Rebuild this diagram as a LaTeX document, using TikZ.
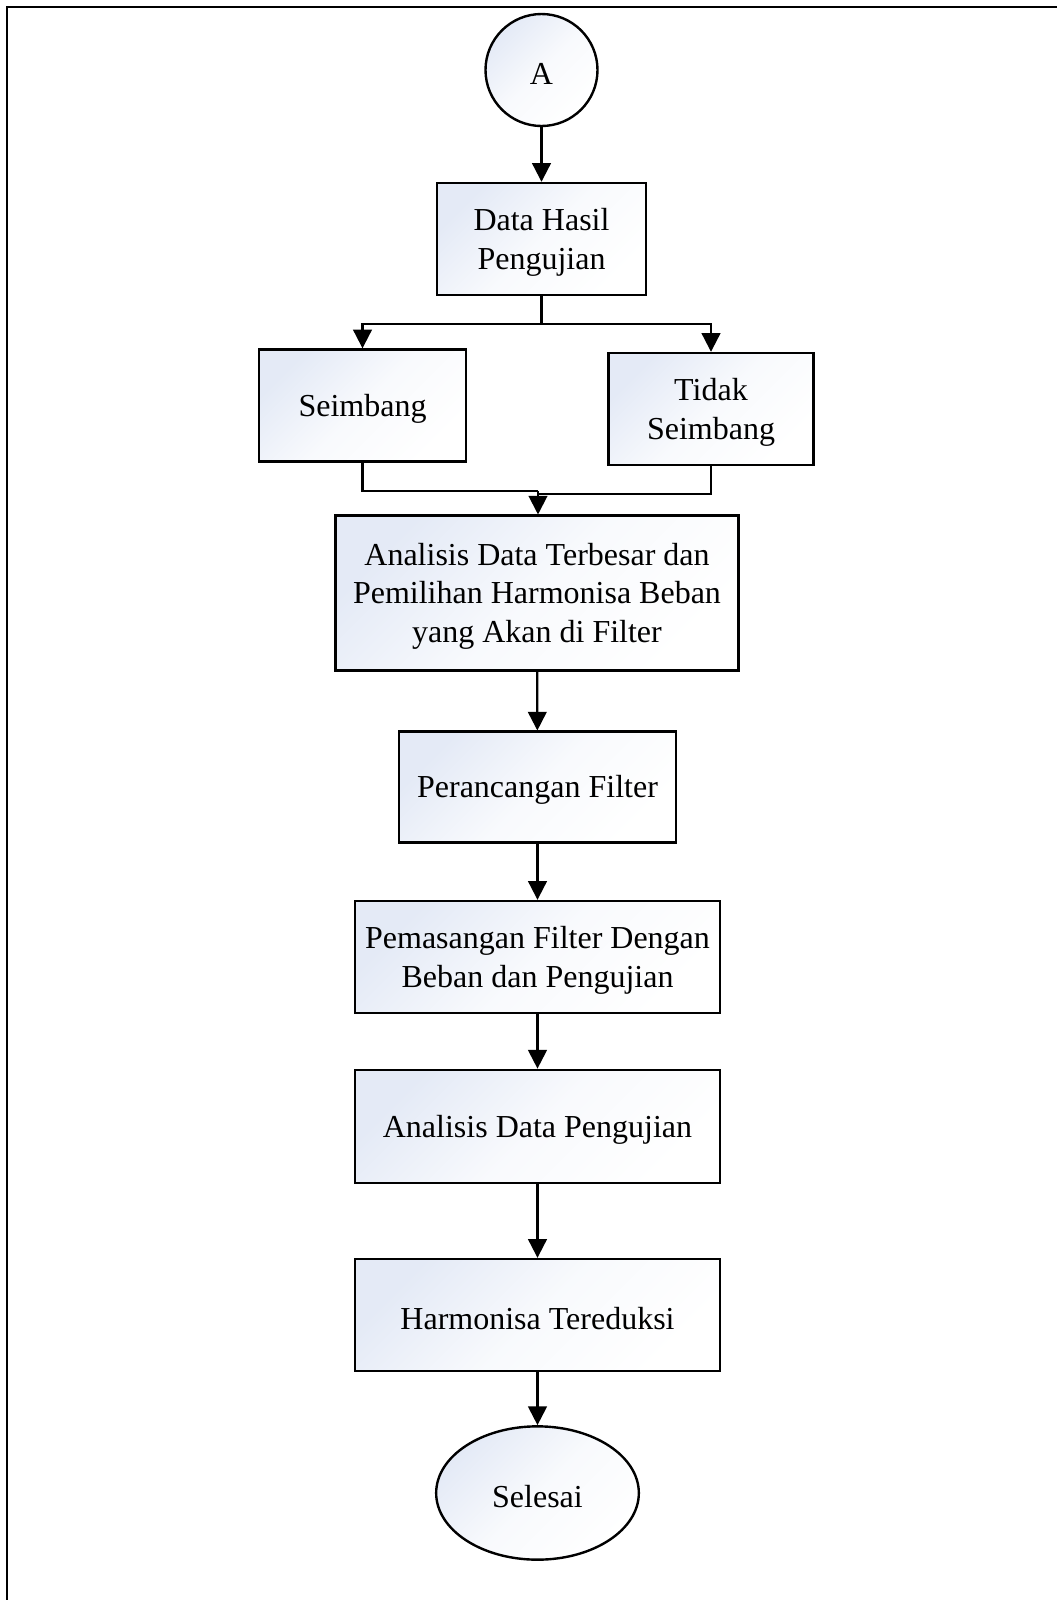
\documentclass[tikz,border=0pt]{standalone}
\usepackage{fontspec}
\setmainfont{Liberation Serif}
\usetikzlibrary{arrows.meta,shapes.geometric}
\definecolor{tint}{RGB}{228,234,246}
\colorlet{tintmid}{white!75!tint}
\newcommand\tstrut{\rule{0pt}{21.5pt}}
\begin{document}
\begin{tikzpicture}[x=0.75pt,y=-0.75pt,
  txt/.style={align=center,font=\fontsize{24}{29}\selectfont},
  shadefill/.style={top color=tint,bottom color=white,middle color=tintmid,shading angle=45},
  box/.style={rectangle,draw=black,line width=1.8pt,inner sep=0pt,txt,shadefill},
  term/.style={draw=black,line width=1.8pt,inner sep=0pt,txt,shadefill},
  arr/.style={line width=1.6pt,-{Triangle[width=14pt,length=14pt]}},
  ln/.style={line width=1.6pt}]
\useasboundingbox (0,0) rectangle (1057,1600);
\draw[line width=2pt] (7,1600) -- (7,7) -- (1057,7);

\node[term,circle,minimum size=84pt] (A) at (541.5,70) {\tstrut A};
\node[box,minimum width=157pt,minimum height=84pt] (data) at (541.5,239) {\tstrut Data Hasil\\Pengujian};
\node[box,minimum width=155pt,minimum height=84pt] (seim) at (362.5,405.5) {\tstrut Seimbang};
\node[box,minimum width=154pt,minimum height=84pt] (tidak) at (711,409) {\tstrut Tidak\\Seimbang};
\node[box,minimum width=302pt,minimum height=116pt] (an1) at (537,593) {\tstrut Analisis Data Terbesar dan\\Pemilihan Harmonisa Beban\\yang Akan di Filter};
\node[box,minimum width=208pt,minimum height=83pt] (per) at (537.5,787) {\tstrut Perancangan Filter};
\node[box,minimum width=274pt,minimum height=84pt] (pem) at (537.5,957) {\tstrut Pemasangan Filter Dengan\\Beban dan Pengujian};
\node[box,minimum width=274pt,minimum height=85pt] (an2) at (537.5,1126.5) {\tstrut Analisis Data Pengujian};
\node[box,minimum width=274pt,minimum height=84pt] (har) at (537.5,1315) {\tstrut Harmonisa Tereduksi};
\node[term,ellipse,minimum width=152pt,minimum height=100pt] (sel) at (537.5,1493) {\tstrut Selesai};

\coordinate (br) at (541.5,324);
\coordinate (m1) at (538,491);
\coordinate (m2) at (538,494);

\draw[arr] (A) -- (data);
\draw[ln] (data.south) -- (br);
\draw[arr] (br) -| (seim.north);
\draw[arr] (br) -| (tidak.north);
\draw[ln] (seim.south) |- (m1);
\draw[ln] (tidak.south) |- (m2);
\draw[arr] (m1) -- (m1 |- an1.north);
\draw[arr] (an1) -- (per);
\draw[arr] (per) -- (pem);
\draw[arr] (pem) -- (an2);
\draw[arr] (an2) -- (har);
\draw[arr] (har) -- (sel);
\end{tikzpicture}
\end{document}
